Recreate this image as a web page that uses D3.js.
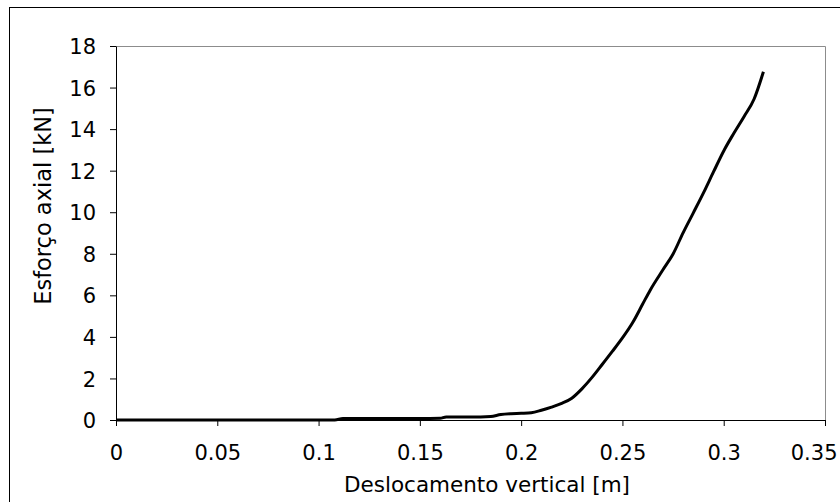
<!DOCTYPE html>
<html>
<head>
<meta charset="utf-8">
<script src="https://cdn.jsdelivr.net/npm/d3@7"></script>
<style>
  body { margin: 0; background: #fff; }
  svg { font-family: "DejaVu Sans", Verdana, sans-serif; }
</style>
</head>
<body>
<script>
var disp = [0, 0.05, 0.1, 0.108, 0.112, 0.12, 0.13, 0.14, 0.15, 0.16, 0.163, 0.17, 0.18, 0.185,
  0.19, 0.195, 0.2, 0.205, 0.21, 0.215, 0.22, 0.225, 0.23, 0.235, 0.24, 0.245, 0.25, 0.255,
  0.26, 0.2637, 0.27, 0.275, 0.28, 0.285, 0.29, 0.295, 0.3, 0.305, 0.31, 0.315, 0.3196];
var force = [0, 0, 0, 0, 0.07, 0.07, 0.07, 0.07, 0.07, 0.08, 0.15, 0.15, 0.15, 0.17,
  0.26, 0.3, 0.32, 0.35, 0.47, 0.62, 0.8, 1.05, 1.5, 2.05, 2.67, 3.3, 3.95, 4.68,
  5.58, 6.25, 7.23, 7.99, 9.02, 9.97, 10.93, 11.95, 12.95, 13.8, 14.6, 15.45, 16.76];

var xTicks = [0, 0.05, 0.1, 0.15, 0.2, 0.25, 0.3, 0.35];
var yTicks = [0, 2, 4, 6, 8, 10, 12, 14, 16, 18];

var width = 840, height = 502;
var plotLeft = 116, plotRight = 825, plotTop = 46, plotBottom = 420;

var svg = d3.select("body").append("svg")
  .attr("width", width)
  .attr("height", height);

// outer chart frame
svg.append("rect")
  .attr("x", 9.5).attr("y", 7.5)
  .attr("width", 840).attr("height", 520)
  .attr("fill", "none").attr("stroke", "#000");

var x = d3.scaleLinear().domain([0, 0.35]).range([plotLeft, plotRight]);
var y = d3.scaleLinear().domain([0, 18]).range([plotBottom, plotTop]);

// plot area border (top and right)
svg.append("path")
  .attr("d", "M" + plotLeft + "," + (plotTop + 0.5) + "H" + (plotRight + 0.5) + "V" + plotBottom)
  .attr("fill", "none").attr("stroke", "#8c8c8c");

var xAxis = svg.append("g")
  .attr("transform", "translate(0," + plotBottom + ")")
  .call(d3.axisBottom(x).tickValues(xTicks).tickSize(6).tickSizeOuter(0)
    .tickFormat(function(d) { return d3.format("")(d); }));

var yAxis = svg.append("g")
  .attr("transform", "translate(" + plotLeft + ",0)")
  .call(d3.axisLeft(y).tickValues(yTicks).tickSize(6).tickSizeOuter(0));

[xAxis, yAxis].forEach(function(g) {
  g.attr("font-size", null).attr("font-family", null);
  g.select(".domain").attr("stroke", "#000");
  g.selectAll(".tick line").attr("stroke", "#000");
  g.selectAll(".tick text").attr("fill", "#000")
    .style("font-size", "21px");
});
xAxis.selectAll(".tick text").attr("dy", "1.48em");
// last label is pulled inside the frame, as in the original
xAxis.selectAll(".tick text").filter(function(d) { return d === 0.35; })
  .attr("text-anchor", "end").attr("x", 12);
yAxis.selectAll(".tick text").attr("x", -20).attr("dy", "0.36em");

var line = d3.line()
  .curve(d3.curveMonotoneX)
  .x(function(d, i) { return x(disp[i]); })
  .y(function(d, i) { return y(force[i]); });

svg.append("path")
  .datum(force)
  .attr("d", line)
  .attr("fill", "none")
  .attr("stroke", "#000")
  .attr("stroke-width", 3)
  .attr("stroke-linejoin", "round");

svg.append("text")
  .attr("x", 487).attr("y", 492)
  .attr("text-anchor", "middle")
  .style("font-size", "21.5px")
  .text("Deslocamento vertical [m]");

svg.append("text")
  .attr("transform", "translate(51,206) rotate(-90)")
  .attr("text-anchor", "middle")
  .style("font-size", "22.5px")
  .text("Esforço axial [kN]");
</script>
</body>
</html>
